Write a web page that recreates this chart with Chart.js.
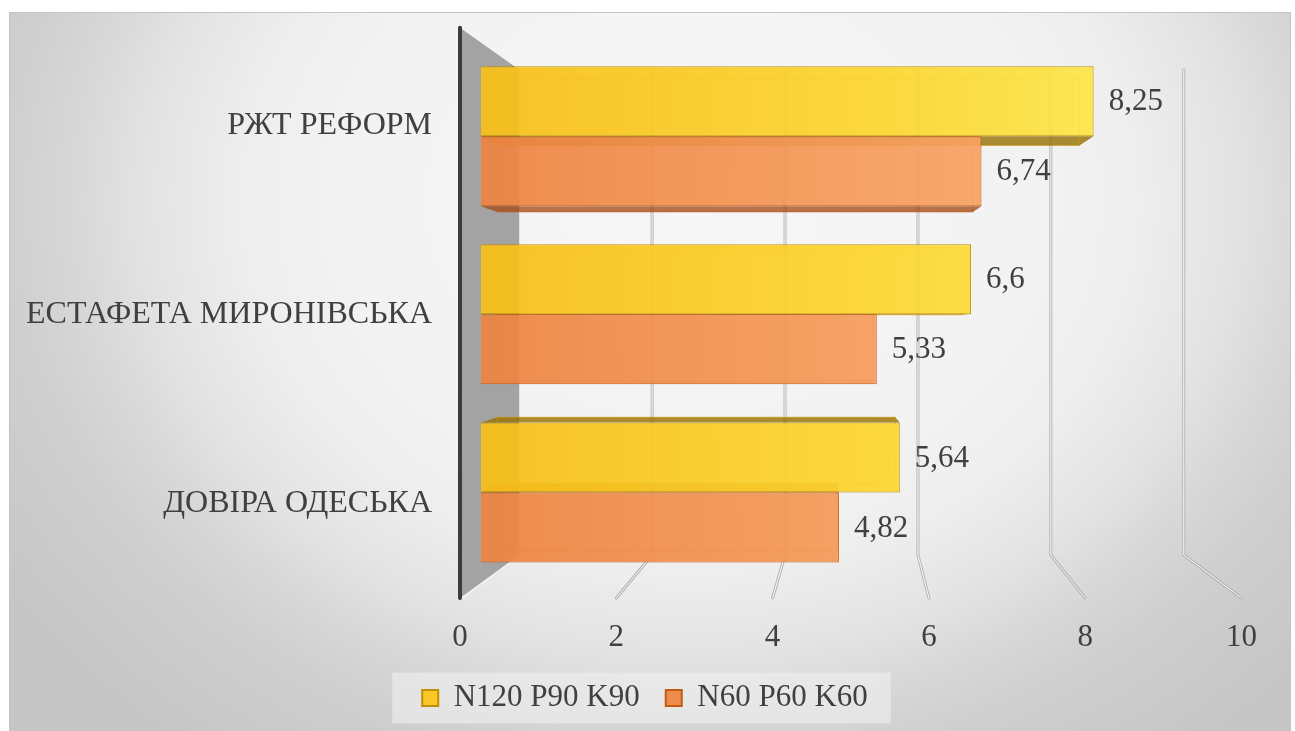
<!DOCTYPE html>
<html>
<head>
<meta charset="utf-8">
<script src="https://cdn.jsdelivr.net/npm/chart.js@4/dist/chart.umd.min.js"></script>
<style>
  html, body { margin: 0; padding: 0; background: #ffffff; }
  #wrap { width: 1295px; height: 731px; }
</style>
</head>
<body>
<div id="wrap"><canvas id="chart" width="1295" height="731"></canvas></div>
<script>
// ---- data ----
const categories = ['РЖТ РЕФОРМ', 'ЕСТАФЕТА МИРОНІВСЬКА', 'ДОВІРА ОДЕСЬКА'];
const seriesNames = ['N120 P90 K90', 'N60 P60 K60'];
const highDose = [8.25, 6.6, 5.64];
const lowDose = [6.74, 5.33, 4.82];
const xTickValues = [0, 2, 4, 6, 8, 10];

// ---- styling ----
const FONT_FAMILY = "'Liberation Serif', 'Times New Roman', serif";
const INK = '#404040';
const fills = ['#fcc726', '#ee8c4e'];
const borders = ['#bf9000', '#c55a11'];
const sideFaces = ['rgba(150,112,0,0.80)', 'rgba(160,70,15,0.75)'];
const backEdges = ['rgba(205,150,0,0.55)', 'rgba(200,95,30,0.55)'];
const gradStops = [
  [[0, 'rgba(247,190,22,0.93)'], [0.55, 'rgba(252,214,48,0.93)'], [0.85, 'rgba(252,232,75,0.93)'], [1, 'rgba(253,240,90,0.93)']],
  [[0, 'rgba(237,130,64,0.93)'], [0.7, 'rgba(249,164,100,0.93)'], [1, 'rgba(250,176,112,0.93)']]
];
const panelStops = [[0, '#f7f7f7'], [0.435, '#f2f2f2'], [0.54, '#eeeeee'], [0.65, '#e4e4e4'], [0.74, '#d8d8d8'], [0.826, '#cfcfcf'], [1, '#c6c6c6']];

// perspective of the 3D frame (vanishing point and depth ratio of the bars)
const VIEW = { vx: 810, vy: 320, depth: 0.95 };
// wall / floor outline offsets relative to the plot area
const FRAME3D = { frontTop: -19.5, backTop: 22.5, backBottom: -26.5, frontBottom: 16.5 };
// horizontal nudge of the legend row
const LEGEND_SHIFT = 18;

const fmt = v => String(v).replace('.', ',');

function barGradient(i) {
  return (ctx) => {
    const chart = ctx.chart;
    const a = chart.chartArea;
    if (!a) return fills[i];
    const g = chart.ctx.createLinearGradient(a.left, 0, a.right, 0);
    gradStops[i].forEach(([o, c]) => g.addColorStop(o, c));
    return g;
  };
}

// background, side wall, floor grid and bar depth faces
const scenery = {
  id: 'scenery',
  afterLayout(chart) {
    const lg = chart.legend;
    if (lg) { lg.left += LEGEND_SHIFT; lg.right += LEGEND_SHIFT; }
  },
  beforeDraw(chart) {
    const { ctx, chartArea: a, scales } = chart;
    const W = chart.width, H = chart.height;
    ctx.save();
    ctx.fillStyle = '#ffffff';
    ctx.fillRect(0, 0, W, H);

    // panel background
    const px = 9, py = 12, pw = 1282, ph = H - py;
    ctx.save();
    ctx.beginPath();
    ctx.rect(px, py, pw, ph);
    ctx.clip();
    ctx.translate(690, 200);
    ctx.scale(1.0, 600 / 720);
    const rg = ctx.createRadialGradient(0, 0, 0, 0, 0, 828);
    panelStops.forEach(([o, c]) => rg.addColorStop(o, c));
    ctx.fillStyle = rg;
    ctx.fillRect(-2000, -2000, 4000, 4000);
    ctx.restore();
    ctx.strokeStyle = '#c4c4c4';
    ctx.lineWidth = 1;
    ctx.strokeRect(px + 0.5, py + 0.5, pw - 1, ph);

    // legend panel
    const lg = chart.legend;
    if (lg && lg.legendHitBoxes && lg.legendHitBoxes.length) {
      const hb = lg.legendHitBoxes;
      const l = hb[0].left - 30;
      const r = hb[hb.length - 1].left + hb[hb.length - 1].width + 23;
      ctx.fillStyle = 'rgba(240,240,240,0.6)';
      ctx.fillRect(l, lg.bottom - 51, r - l, 51);
    }

    const xf = scales.xFront, xb = scales.xBack;
    const fTop = a.top + FRAME3D.frontTop;
    const bTop = a.top + FRAME3D.backTop;
    const bBot = a.bottom + FRAME3D.backBottom;
    const fBot = a.bottom + FRAME3D.frontBottom;

    // back-wall grid lines running down onto the floor
    xTickValues.forEach(v => {
      if (v === 0) return;
      const xB = xb.getPixelForValue(v);
      const xF = xf.getPixelForValue(v);
      ctx.beginPath();
      ctx.moveTo(xB, bTop);
      ctx.lineTo(xB, bBot);
      ctx.lineTo(xF, fBot);
      ctx.lineCap = 'round';
      ctx.lineJoin = 'round';
      ctx.strokeStyle = '#b4b4b4';
      ctx.lineWidth = 3;
      ctx.stroke();
      ctx.strokeStyle = '#fafafa';
      ctx.lineWidth = 1;
      ctx.stroke();
    });

    // left side wall
    const x0F = xf.getPixelForValue(0);
    const x0B = xb.getPixelForValue(0);
    ctx.beginPath();
    ctx.moveTo(x0F, fTop);
    ctx.lineTo(x0B, bTop);
    ctx.lineTo(x0B, bBot);
    ctx.lineTo(x0F, fBot);
    ctx.closePath();
    ctx.fillStyle = '#a3a3a3';
    ctx.fill();
    ctx.beginPath();
    ctx.moveTo(x0B, bBot + 1);
    ctx.lineTo(x0F + 1, fBot + 1);
    ctx.strokeStyle = '#f4f4f4';
    ctx.lineWidth = 1.2;
    ctx.stroke();
    ctx.beginPath();
    ctx.moveTo(x0F, fTop);
    ctx.lineTo(x0F, fBot);
    ctx.strokeStyle = '#3c3c3c';
    ctx.lineWidth = 4;
    ctx.lineCap = 'round';
    ctx.stroke();

    // depth faces of the bars
    const k = VIEW.depth;
    const bx = x => VIEW.vx + (x - VIEW.vx) * k;
    const by = y => VIEW.vy + (y - VIEW.vy) * k;
    chart.data.datasets.forEach((ds, di) => {
      const meta = chart.getDatasetMeta(di);
      meta.data.forEach(el => {
        const p = el.getProps(['x', 'y', 'base', 'height'], true);
        const L = Math.min(p.base, p.x), R = Math.max(p.base, p.x);
        const T = p.y - p.height / 2, B = p.y + p.height / 2;
        const L2 = bx(L), R2 = bx(R), T2 = by(T), B2 = by(B);
        ctx.fillStyle = sideFaces[di];
        if (B2 > B) { // underside
          ctx.beginPath();
          ctx.moveTo(L, B); ctx.lineTo(R, B); ctx.lineTo(R2, B2); ctx.lineTo(L2, B2);
          ctx.closePath(); ctx.fill();
        }
        if (T2 < T) { // upper side
          ctx.beginPath();
          ctx.moveTo(L, T); ctx.lineTo(R, T); ctx.lineTo(R2, T2); ctx.lineTo(L2, T2);
          ctx.closePath(); ctx.fill();
        }
        if (R2 > R) { // end face
          ctx.beginPath();
          ctx.moveTo(R, T); ctx.lineTo(R2, T2); ctx.lineTo(R2, B2); ctx.lineTo(R, B);
          ctx.closePath(); ctx.fill();
        }
        ctx.strokeStyle = backEdges[di];
        ctx.lineWidth = 1.2;
        ctx.strokeRect(L2, T2, R2 - L2, B2 - T2);
      });
    });
    ctx.restore();
  }
};

// value labels at the bar ends
const valueLabels = {
  id: 'valueLabels',
  afterDatasetsDraw(chart) {
    const { ctx } = chart;
    ctx.save();
    ctx.font = `31px ${FONT_FAMILY}`;
    ctx.fillStyle = INK;
    ctx.textAlign = 'left';
    ctx.textBaseline = 'middle';
    chart.data.datasets.forEach((ds, di) => {
      chart.getDatasetMeta(di).data.forEach((el, i) => {
        const p = el.getProps(['x', 'y'], true);
        ctx.fillText(fmt(ds.data[i]), p.x + 15, p.y + 1);
      });
    });
    ctx.restore();
  }
};

new Chart(document.getElementById('chart'), {
  type: 'bar',
  data: {
    labels: categories,
    datasets: [
      {
        label: seriesNames[0], data: highDose, xAxisID: 'x', yAxisID: 'y',
        backgroundColor: barGradient(0), borderColor: borders[0], borderWidth: 1,
        categoryPercentage: 0.786, barPercentage: 1
      },
      {
        label: seriesNames[1], data: lowDose, xAxisID: 'x', yAxisID: 'y',
        backgroundColor: barGradient(1), borderColor: borders[1], borderWidth: 1,
        categoryPercentage: 0.786, barPercentage: 1
      }
    ]
  },
  options: {
    indexAxis: 'y',
    responsive: false,
    devicePixelRatio: 1,
    animation: false,
    layout: { padding: { left: 9, right: 50, top: 38, bottom: 7.5 } },
    scales: {
      x: { type: 'linear', display: false, min: -0.2815, max: 10.241 },
      xBack: { type: 'linear', display: false, min: -0.891, max: 10.869 },
      xFront: {
        type: 'linear', position: 'bottom', min: 0, max: 10, offset: false,
        afterBuildTicks: s => { s.ticks = xTickValues.map(v => ({ value: v })); },
        afterFit: s => { s.height = 75; },
        grid: { display: false, drawTicks: false },
        border: { display: false },
        ticks: { font: { family: FONT_FAMILY, size: 31 }, color: INK, padding: 38, autoSkip: false, maxRotation: 0 }
      },
      y: { type: 'category', display: false, offset: true },
      yName: {
        type: 'linear', position: 'left', min: -0.412, max: 2.412, offset: false,
        afterBuildTicks: s => { s.ticks = categories.map((_, i) => ({ value: categories.length - 1 - i })); },
        afterFit: s => { s.width = 451; },
        grid: { display: false, drawTicks: false, offset: false },
        border: { display: false },
        ticks: {
          font: { family: FONT_FAMILY, size: 32 }, color: INK, padding: 28, autoSkip: false,
          callback: v => categories[categories.length - 1 - Math.round(v)]
        }
      }
    },
    plugins: {
      legend: {
        position: 'bottom',
        labels: {
          font: { family: FONT_FAMILY, size: 31 }, color: INK,
          boxWidth: 16, boxHeight: 16, padding: 26,
          generateLabels: () => seriesNames.map((name, i) => ({
            text: name, fillStyle: fills[i], strokeStyle: borders[i], lineWidth: 2,
            hidden: false, datasetIndex: i, fontColor: INK
          }))
        }
      },
      tooltip: { enabled: false }
    }
  },
  plugins: [scenery, valueLabels]
});
</script>
</body>
</html>
